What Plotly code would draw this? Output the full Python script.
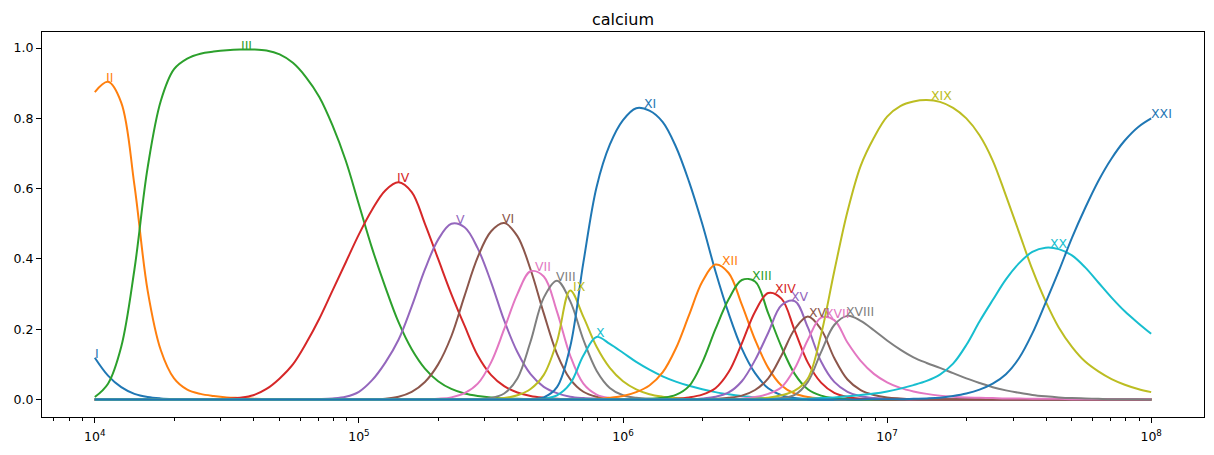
import plotly.graph_objects as go

ions = ["I", "II", "III", "IV", "V", "VI", "VII", "VIII", "IX", "X", "XI",
        "XII", "XIII", "XIV", "XV", "XVI", "XVII", "XVIII", "XIX", "XX", "XXI"]
tab10 = ["#1f77b4", "#ff7f0e", "#2ca02c", "#d62728", "#9467bd",
         "#8c564b", "#e377c2", "#7f7f7f", "#bcbd22", "#17becf"]

# Temperature grid: log10(T) from 4.0 to 8.0 in steps of 0.05.
LOGT_MIN, LOGT_MAX, LOGT_STEP = 4.0, 8.0, 0.05

# log10(T) at which each ion's fraction peaks
peak_logT = [4.0, 4.044, 4.552, 5.146, 5.369, 5.54, 5.665, 5.748, 5.81, 5.897,
             6.078, 6.373, 6.487, 6.574, 6.638, 6.706, 6.763, 6.843, 7.165,
             7.616, 8.0]

# Ion fractions, on the 0.05 grid, starting at the
# given log10(T); outside the listed span the fraction is zero.
start_I = 4.0
frac_I = [0.119, 0.068, 0.035, 0.016, 0.007, 0.003, 0.001]

start_II = 4.0
frac_II = [0.875, 0.904, 0.845, 0.61, 0.31, 0.14, 0.06, 0.028, 0.016, 0.01,
           0.006, 0.004, 0.002, 0.001]

start_III = 4.0
frac_III = [0.007, 0.045, 0.15, 0.37, 0.66, 0.85, 0.94, 0.97, 0.984, 0.99,
            0.994, 0.996, 0.996, 0.993, 0.982, 0.958, 0.917, 0.861, 0.78, 0.68,
            0.555, 0.43, 0.32, 0.22, 0.143, 0.088, 0.052, 0.03, 0.017, 0.01,
            0.006, 0.003, 0.002, 0.001]

start_IV = 4.45
frac_IV = [0.001, 0.002, 0.005, 0.012, 0.03, 0.06, 0.10, 0.16, 0.23, 0.31,
           0.39, 0.47, 0.54, 0.595, 0.618, 0.59, 0.50, 0.40, 0.30, 0.21,
           0.125, 0.07, 0.038, 0.02, 0.01, 0.005, 0.002, 0.001]

start_V = 4.85
frac_V = [0.001, 0.003, 0.008, 0.022, 0.055, 0.105, 0.17, 0.265, 0.37, 0.455,
          0.5, 0.49, 0.43, 0.335, 0.225, 0.135, 0.072, 0.036, 0.018, 0.008,
          0.004, 0.002, 0.001]

start_VI = 5.1
frac_VI = [0.002, 0.008, 0.022, 0.05, 0.10, 0.18, 0.295, 0.405, 0.478, 0.502,
           0.465, 0.37, 0.245, 0.13, 0.058, 0.022, 0.008, 0.003, 0.001]

start_VII = 5.3
frac_VII = [0.002, 0.006, 0.018, 0.045, 0.105, 0.2, 0.3, 0.365, 0.35, 0.25,
            0.125, 0.045, 0.014, 0.004, 0.001]

start_VIII = 5.45
frac_VIII = [0.001, 0.004, 0.017, 0.06, 0.165, 0.29, 0.338, 0.28, 0.17, 0.082,
             0.033, 0.012, 0.005, 0.002, 0.001]

start_IX = 5.5
frac_IX = [0.001, 0.004, 0.012, 0.03, 0.07, 0.165, 0.31, 0.235, 0.15, 0.09,
           0.052, 0.029, 0.015, 0.008, 0.004, 0.002, 0.001]

start_X = 5.65
frac_X = [0.001, 0.003, 0.012, 0.045, 0.125, 0.178, 0.158, 0.133, 0.107, 0.085,
          0.066, 0.051, 0.039, 0.029, 0.021, 0.015, 0.01, 0.006, 0.004, 0.002,
          0.001]

start_XI = 5.65
frac_XI = [0.001, 0.006, 0.035, 0.15, 0.39, 0.605, 0.725, 0.795, 0.829, 0.822,
           0.79, 0.72, 0.62, 0.50, 0.365, 0.245, 0.145, 0.075, 0.032, 0.012,
           0.004, 0.001]

start_XII = 5.85
frac_XII = [0.001, 0.002, 0.005, 0.01, 0.021, 0.04, 0.077, 0.145, 0.24, 0.335,
            0.384, 0.36, 0.27, 0.17, 0.09, 0.04, 0.017, 0.007, 0.003, 0.001]

start_XIII = 6.05
frac_XIII = [0.001, 0.002, 0.005, 0.013, 0.038, 0.105, 0.2, 0.285, 0.34, 0.336,
             0.245, 0.15, 0.073, 0.029, 0.011, 0.004, 0.001]

start_XIV = 6.2
frac_XIV = [0.002, 0.006, 0.014, 0.032, 0.078, 0.16, 0.25, 0.303, 0.287, 0.197,
            0.105, 0.048, 0.019, 0.007, 0.002, 0.001]

start_XV = 6.3
frac_XV = [0.003, 0.008, 0.02, 0.052, 0.112, 0.19, 0.268, 0.28, 0.205, 0.108,
           0.05, 0.022, 0.009, 0.004, 0.002, 0.001]

start_XVI = 6.35
frac_XVI = [0.002, 0.005, 0.011, 0.027, 0.06, 0.125, 0.2, 0.236, 0.2, 0.118,
            0.057, 0.027, 0.013, 0.006, 0.003, 0.001]

start_XVII = 6.45
frac_XVII = [0.003, 0.007, 0.016, 0.035, 0.088, 0.17, 0.233, 0.226, 0.162, 0.11,
             0.073, 0.049, 0.033, 0.023, 0.016, 0.011, 0.008, 0.006, 0.005, 0.004,
             0.003, 0.003, 0.002, 0.002, 0.002, 0.001, 0.001, 0.001, 0.001, 0.001,
             0.001, 0.001]

start_XVIII = 6.55
frac_XVIII = [0.001, 0.004, 0.013, 0.05, 0.135, 0.212, 0.238, 0.224, 0.197, 0.168,
              0.142, 0.12, 0.104, 0.09, 0.075, 0.06, 0.047, 0.035, 0.026, 0.019,
              0.013, 0.009, 0.006, 0.004, 0.003, 0.002, 0.001, 0.001, 0.001]

start_XIX = 6.4
frac_XIX = [0.001, 0.001, 0.002, 0.005, 0.012, 0.025, 0.06, 0.185, 0.365, 0.535,
            0.665, 0.745, 0.805, 0.835, 0.848, 0.852, 0.847, 0.83, 0.80, 0.752,
            0.68, 0.58, 0.475, 0.37, 0.28, 0.205, 0.15, 0.108, 0.08, 0.058,
            0.042, 0.03, 0.021]

start_XX = 6.6
frac_XX = [0.001, 0.001, 0.002, 0.004, 0.006, 0.009, 0.013, 0.017, 0.023, 0.031,
           0.041, 0.053, 0.071, 0.102, 0.155, 0.222, 0.283, 0.342, 0.388, 0.42,
           0.432, 0.428, 0.41, 0.376, 0.333, 0.29, 0.251, 0.218, 0.187]

start_XXI = 6.95
frac_XXI = [0.001, 0.001, 0.001, 0.002, 0.003, 0.005, 0.01, 0.017, 0.028, 0.045,
            0.072, 0.118, 0.188, 0.275, 0.365, 0.46, 0.545, 0.622, 0.686, 0.737,
            0.775, 0.80]

series_start = [start_I, start_II, start_III, start_IV, start_V, start_VI,
                start_VII, start_VIII, start_IX, start_X, start_XI, start_XII,
                start_XIII, start_XIV, start_XV, start_XVI, start_XVII,
                start_XVIII, start_XIX, start_XX, start_XXI]
series_frac = [frac_I, frac_II, frac_III, frac_IV, frac_V, frac_VI, frac_VII,
               frac_VIII, frac_IX, frac_X, frac_XI, frac_XII, frac_XIII, frac_XIV,
               frac_XV, frac_XVI, frac_XVII, frac_XVIII, frac_XIX, frac_XX, frac_XXI]

decade_ticks = [1e4, 1e5, 1e6, 1e7, 1e8]
decade_text = ["10<sup>4</sup>", "10<sup>5</sup>", "10<sup>6</sup>",
               "10<sup>7</sup>", "10<sup>8</sup>"]

n_grid = int(round((LOGT_MAX - LOGT_MIN) / LOGT_STEP)) + 1
grid = [round(LOGT_MIN + LOGT_STEP * i, 4) for i in range(n_grid)]

FONT = "DejaVu Sans"
fig = go.Figure()
for i, (name, st, fr) in enumerate(zip(ions, series_start, series_frac)):
    col = tab10[i % 10]
    i0 = int(round((st - LOGT_MIN) / LOGT_STEP))
    y = [0.0] * n_grid
    for j, v in enumerate(fr):
        y[i0 + j] = v
    T = [10 ** g for g in grid]
    fig.add_trace(go.Scatter(
        x=T, y=y, mode="lines", name=name, showlegend=False, hoverinfo="skip",
        line=dict(color=col, width=2, shape="spline", smoothing=1.0)))
    fig.add_annotation(
        x=peak_logT[i], y=max(y), xref="x", yref="y", text=name, showarrow=False,
        xanchor="left", yanchor="bottom", xshift=-2, yshift=-5,
        font=dict(family=FONT, size=12.5, color=col))

axis_common = dict(
    showline=True, linecolor="black", linewidth=1, mirror=True,
    showgrid=False, zeroline=False,
    ticks="outside", ticklen=5, tickwidth=1, tickcolor="black",
    tickfont=dict(family=FONT, size=12.5, color="black"),
)

fig.update_layout(
    width=1214, height=455,
    margin=dict(l=42, r=10, t=32, b=38),
    paper_bgcolor="white", plot_bgcolor="white",
    font=dict(family=FONT, size=12.5, color="black"),
    title=dict(text="calcium", x=0.5, xref="paper", xanchor="center",
               y=1, yref="paper", yanchor="bottom", pad=dict(b=7),
               font=dict(family=FONT, size=16, color="black")),
    xaxis=dict(type="log", range=[3.8, 8.2], tickmode="array",
               tickvals=decade_ticks, ticktext=decade_text,
               ticklabelstandoff=3,
               minor=dict(ticks="outside", ticklen=3, tickwidth=0.8,
                          tickcolor="black", dtick="D1", showgrid=False),
               **axis_common),
    yaxis=dict(range=[-0.0498, 1.0458], tick0=0, dtick=0.2, tickformat=".1f",
               **axis_common),
)

fig.write_html("out.html")
